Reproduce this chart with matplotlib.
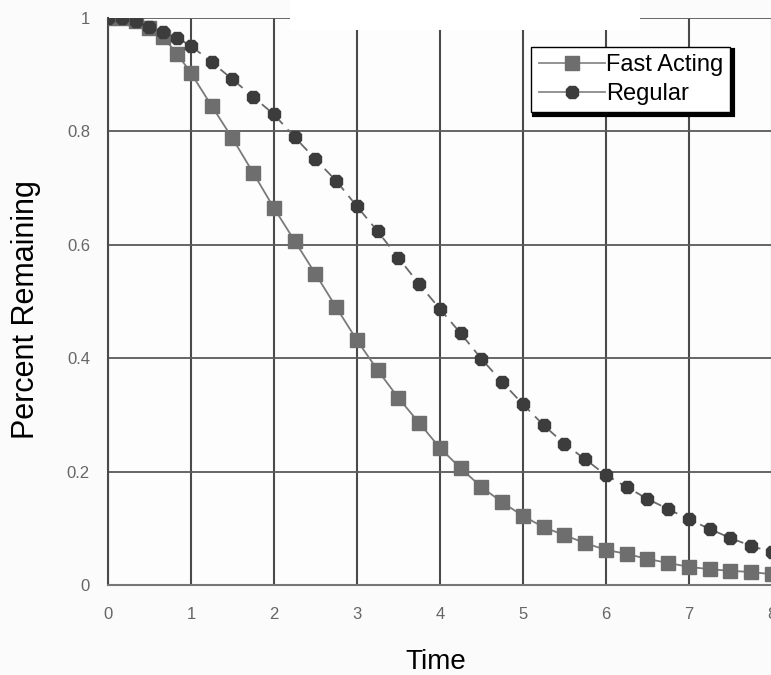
import matplotlib.pyplot as plt
from matplotlib.patches import Rectangle

# time points (first hour sampled every 10 minutes, then every 15)
time = [0, 1/6, 1/3, 0.5, 2/3, 5/6, 1.0, 1.25, 1.5, 1.75, 2.0, 2.25, 2.5, 2.75,
        3.0, 3.25, 3.5, 3.75, 4.0, 4.25, 4.5, 4.75, 5.0, 5.25, 5.5, 5.75,
        6.0, 6.25, 6.5, 6.75, 7.0, 7.25, 7.5, 7.75, 8.0]

fast_acting = [1.0, 1.0, 0.995, 0.982, 0.966, 0.937, 0.903, 0.845, 0.788, 0.727,
               0.665, 0.607, 0.549, 0.490, 0.432, 0.379, 0.330, 0.286, 0.242,
               0.206, 0.173, 0.146, 0.122, 0.102, 0.088, 0.074, 0.062, 0.055,
               0.046, 0.039, 0.032, 0.028, 0.025, 0.023, 0.019]

regular = [1.0, 1.0, 0.994, 0.984, 0.975, 0.965, 0.951, 0.922, 0.892, 0.861,
           0.830, 0.790, 0.751, 0.713, 0.668, 0.624, 0.577, 0.531, 0.487,
           0.444, 0.399, 0.358, 0.319, 0.282, 0.249, 0.222, 0.194, 0.173,
           0.152, 0.134, 0.116, 0.099, 0.083, 0.069, 0.058]

x_ticks = [0, 1, 2, 3, 4, 5, 6, 7, 8]
y_ticks = [0, 0.2, 0.4, 0.6, 0.8, 1]
y_tick_labels = ['0', '0.2', '0.4', '0.6', '0.8', '1']

font = ['Liberation Sans', 'DejaVu Sans']

fig = plt.figure(figsize=(7.71, 6.75), dpi=100, facecolor='#fbfbfb')
ax = fig.add_axes([0.140, 0.1333, 0.861, 0.840])
ax.set_facecolor('#fdfdfd')

# grid
for xv in x_ticks:
    ax.axvline(xv, color='#4a4a4a', linewidth=1.5, zorder=1)
for yv in y_ticks[1:]:
    ax.axhline(yv, color='#5a5a5a', linewidth=1.3, zorder=1)

ax.plot(time, fast_acting, color='#7a7a7a', linewidth=1.3, marker='s',
        markersize=10, markerfacecolor='#6e6e6e', markeredgecolor='#6e6e6e',
        label='Fast Acting', zorder=3)
ax.plot(time, regular, color='#6a6a6a', linewidth=1.3, linestyle=(0, (6, 4)),
        marker='8', markersize=10, markerfacecolor='#3c3c3c',
        markeredgecolor='#3c3c3c', label='Regular', zorder=4)

ax.set_xlim(0, 8)
ax.set_ylim(0, 1)
ax.set_xticks(x_ticks)
ax.set_xticklabels([str(v) for v in x_ticks], family=font, fontsize=12,
                   color='#666666')
ax.set_yticks(y_ticks)
ax.set_yticklabels(y_tick_labels, family=font, fontsize=12, color='#666666')
ax.tick_params(axis='x', length=0, pad=16)
ax.tick_params(axis='y', length=0, pad=13)

for side in ['top', 'right']:
    ax.spines[side].set_visible(False)
ax.spines['left'].set_color('#4a4a4a')
ax.spines['left'].set_linewidth(1.5)
ax.spines['bottom'].set_color('#777777')
ax.spines['bottom'].set_linewidth(1.5)

fig.text(26 / 771, 1 - 310 / 675, 'Percent Remaining', rotation=90,
         ha='center', va='center', fontsize=22, family=font)
fig.text(436 / 771, 1 - 662 / 675, 'Time', ha='center', va='center',
         fontsize=20, family=font)

leg = ax.legend(loc='upper left', bbox_to_anchor=(0.638, 0.949),
                borderaxespad=0, frameon=True, fancybox=False,
                shadow={'color': 'black', 'alpha': 1.0, 'linewidth': 3},
                handlelength=2.8, handletextpad=0.05, labelspacing=0.3,
                borderpad=0.3, prop={'family': font, 'size': 17})
leg.get_frame().set_edgecolor('black')
leg.get_frame().set_linewidth(1.0)
leg.get_frame().set_facecolor('white')
leg.get_frame().set_alpha(1)
for h in leg.legend_handles:
    h.set_linestyle('-')
    h.set_color('#8a8a8a')

# blank strip at the top of the scanned chart
fig.patches.append(Rectangle((290 / 771, 1 - 30 / 675), 350 / 771, 30 / 675,
                             transform=fig.transFigure, facecolor='white',
                             edgecolor='none', zorder=10))

fig.savefig('out.png', dpi=100, facecolor=fig.get_facecolor())
